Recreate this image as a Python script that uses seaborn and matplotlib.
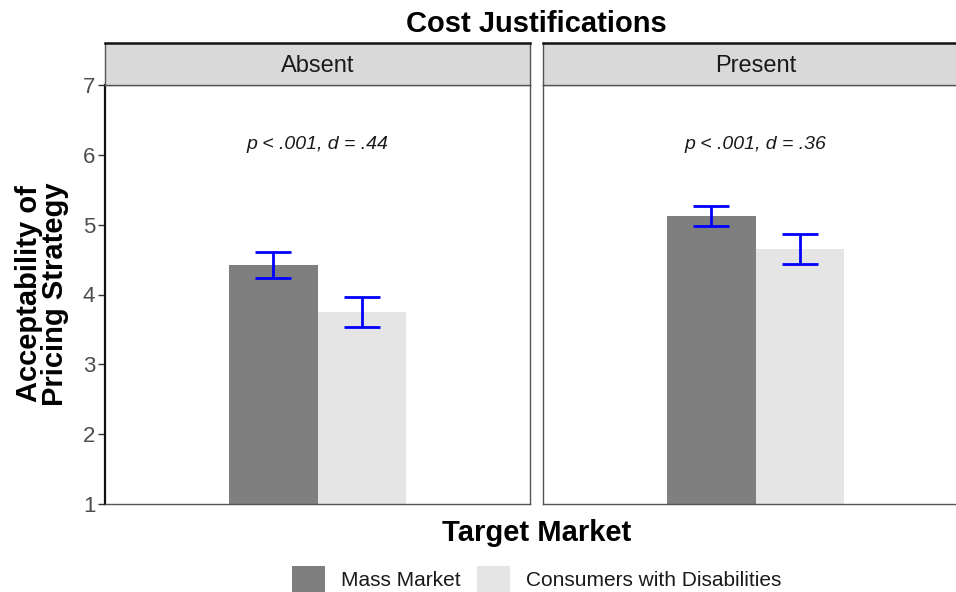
import matplotlib
matplotlib.use("Agg")
import matplotlib.pyplot as plt
from matplotlib.patches import Patch
import pandas as pd
import seaborn as sns

# Condition panels and market groups
conditions = ["Absent", "Present"]
markets = ["Mass Market", "Consumers with Disabilities"]
bar_colors = ["#7F7F7F", "#E5E5E5"]

# Mean acceptability and 95% CI bounds, per condition, in market order
means = {"Absent": [4.42, 3.75], "Present": [5.13, 4.65]}
ci_low = {"Absent": [4.23, 3.54], "Present": [4.98, 4.43]}
ci_high = {"Absent": [4.61, 3.97], "Present": [5.27, 4.87]}

# Test results printed inside each panel
stat_labels = {"Absent": "p < .001, d = .44", "Present": "p < .001, d = .36"}

y_ticks = [1, 2, 3, 4, 5, 6, 7]

rows = []
for c in conditions:
    for i, m in enumerate(markets):
        rows.append({"cond": c, "market": m, "mean": means[c][i],
                     "lo": ci_low[c][i], "hi": ci_high[c][i]})
df = pd.DataFrame(rows)

sns.set_theme(style="white")
plt.rcParams["font.family"] = ["Liberation Sans", "DejaVu Sans"]

W, H = 956, 592
fig = plt.figure(figsize=(W / 100, H / 100), dpi=100)

panel_left = [105, 543]
panel_w = 425
panel_top, panel_bottom = 85, 504
strip_top = 43

for k, cond in enumerate(conditions):
    x0 = panel_left[k]
    ax = fig.add_axes([x0 / W, (H - panel_bottom) / H,
                       panel_w / W, (panel_bottom - panel_top) / H])
    sub = df[df["cond"] == cond]
    sns.barplot(data=sub, x="cond", y="mean", hue="market", hue_order=markets,
                palette=bar_colors, saturation=1, width=0.5, gap=0,
                errorbar=None, legend=False, linewidth=0, ax=ax)
    # confidence interval whiskers on each bar
    ordered = sub.set_index("market").loc[markets].reset_index()
    for patch, (_, r) in zip(ax.patches, ordered.iterrows()):
        xc = patch.get_x() + patch.get_width() / 2
        ax.errorbar(xc, r["mean"], yerr=[[r["mean"] - r["lo"]], [r["hi"] - r["mean"]]],
                    fmt="none", ecolor="#0000FF", elinewidth=2, capsize=13, capthick=2)
    ax.set_xlim(-0.6, 0.6)
    ax.set_ylim(1, 7)
    ax.set_xticks([])
    ax.set_xlabel("")
    ax.set_ylabel("")
    ax.text(0, 6.15, stat_labels[cond], ha="center", va="center",
            fontsize=14, fontstyle="italic", color="#1A1A1A")
    for s in ax.spines.values():
        s.set_visible(True)
        s.set_color("#555555")
        s.set_linewidth(1)
    if k == 0:
        ax.set_yticks(y_ticks)
        ax.tick_params(axis="y", length=5, width=1, color="#333333",
                       labelsize=16, labelcolor="#4D4D4D", pad=2, left=True)
        ax.spines["left"].set_color("#111111")
        ax.spines["left"].set_linewidth(1.6)
    else:
        ax.set_yticks([])

    # facet strip
    sax = fig.add_axes([x0 / W, (H - panel_top) / H,
                        panel_w / W, (panel_top - strip_top) / H])
    sax.set_facecolor("#D9D9D9")
    sax.set_xticks([])
    sax.set_yticks([])
    for s in sax.spines.values():
        s.set_visible(True)
        s.set_color("#555555")
        s.set_linewidth(1)
    sax.spines["top"].set_color("#111111")
    sax.spines["top"].set_linewidth(1.8)
    sax.text(0.5, 0.45, cond, ha="center", va="center", fontsize=17,
             color="#1A1A1A", transform=sax.transAxes)

cx = (panel_left[0] + panel_left[1] + panel_w) / 2 / W
fig.text(cx, 1 - 24 / H, "Cost Justifications", ha="center", va="center",
         fontsize=21, fontweight="bold", color="black")
fig.text(cx, 1 - 533 / H, "Target Market", ha="center", va="center",
         fontsize=21, fontweight="bold", color="black")
fig.text(42 / W, 1 - 294 / H, "Acceptability of\nPricing Strategy", ha="center",
         va="center", rotation=90, fontsize=21, fontweight="bold", linespacing=0.9,
         color="black")

handles = [Patch(facecolor=c, edgecolor="none", label=m) for m, c in zip(markets, bar_colors)]
fig.legend(handles=handles, loc="center", bbox_to_anchor=(cx, 1 - 579 / H),
           ncol=2, frameon=False, fontsize=15, handlelength=1.6, handleheight=1.6,
           handletextpad=0.75, columnspacing=0.8, labelcolor="#1A1A1A")

fig.savefig("out.png", dpi=100)
